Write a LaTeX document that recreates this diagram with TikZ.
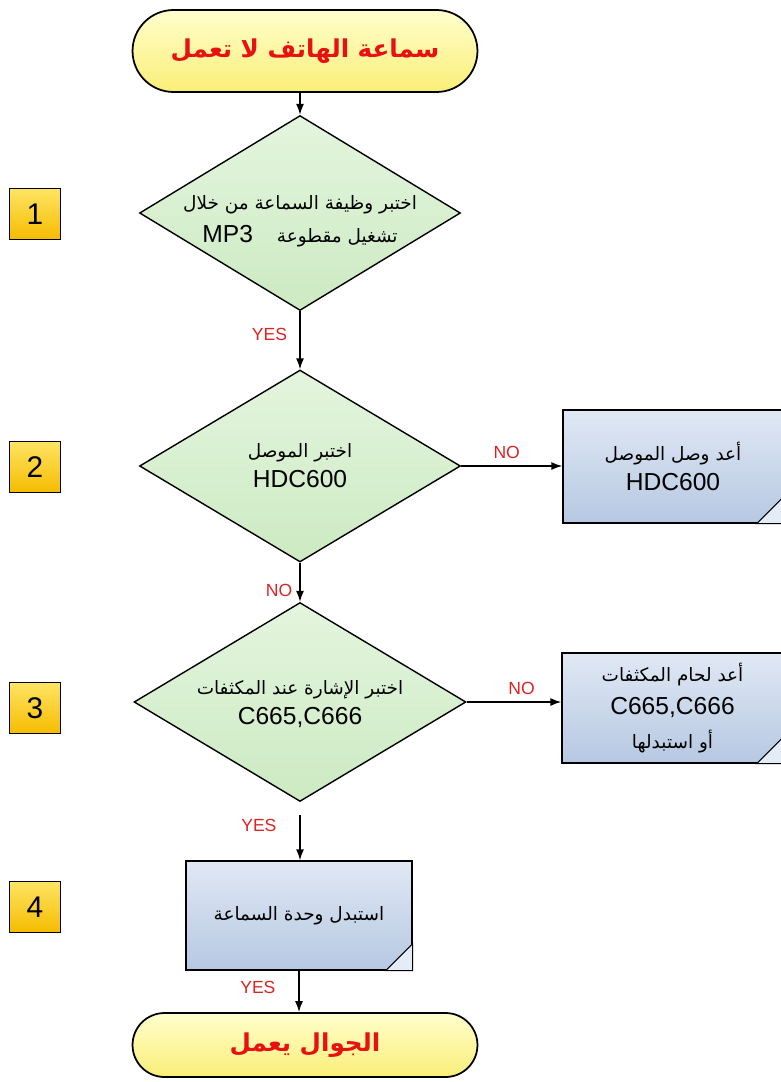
\documentclass[tikz,border=0pt]{standalone}
\usepackage{fontspec}
\setmainfont{Liberation Sans}
\newfontfamily\arabicfont[Script=Arabic]{DejaVu Sans}
\TeXXeTstate=1
\usepackage{tikz}
\usetikzlibrary{positioning,shapes.geometric,arrows.meta,calc}

\definecolor{termtop}{RGB}{255,255,205}
\definecolor{termbot}{RGB}{250,238,120}
\definecolor{dectop}{RGB}{228,245,222}
\definecolor{decbot}{RGB}{204,234,194}
\definecolor{boxtop}{RGB}{224,232,244}
\definecolor{boxbot}{RGB}{182,200,226}
\definecolor{foldc}{RGB}{228,236,248}
\definecolor{numtop}{RGB}{255,228,100}
\definecolor{numbot}{RGB}{245,188,0}
\definecolor{lblred}{RGB}{222,34,34}
\definecolor{titlered}{RGB}{232,16,16}

\newcommand{\arline}[1]{{\arabicfont\fontsize{10.5}{17}\selectfont\beginR #1\endR}}

\tikzset{
  term/.style={draw, line width=1pt, top color=termtop, bottom color=termbot,
    minimum width=6.9cm, font=\arabicfont\bfseries\fontsize{14}{17}\selectfont, text=titlered},
  decision/.style={diamond, draw, line width=0.8pt, top color=dectop, bottom color=decbot, inner sep=0pt},
  dtext/.style={align=center, font=\fontsize{14}{17}\selectfont},
  process/.style={draw, line width=0.8pt, top color=boxtop, bottom color=boxbot, align=center,
    font=\fontsize{14}{17}\selectfont},
  num/.style={draw, line width=0.8pt, top color=numtop, bottom color=numbot,
    minimum size=1.02cm, font=\fontsize{17}{20}\selectfont},
  arr/.style={-{Latex[length=2.2mm,width=1.6mm]}, line width=0.8pt},
  lbl/.style={text=lblred, font=\fontsize{10}{12}\selectfont, inner sep=1pt}
}

\newcommand{\fold}[1]{
  \draw[fill=foldc, line width=0.6pt] ($(#1.south east)+(-27,0)$) -- ($(#1.south east)+(0,-27)$)
    -- (#1.south east) -- cycle;
}

\begin{document}
\begin{tikzpicture}[x=0.02cm, y=-0.02cm]
    \useasboundingbox (0,0) rectangle (781,1082);

    % start and end
    \node[term, minimum height=1.64cm, rounded corners=0.82cm] (start) at (305,51)
      {\beginR سماعة الهاتف لا تعمل\endR};
    \node[term, minimum height=1.28cm, rounded corners=0.64cm] (stop) at (305,1045)
      {\beginR الجوال يعمل\endR};

    % checks
    \node[decision, minimum width=6.42cm, minimum height=3.9cm] (d1) at (300,213) {};
    \node[dtext] (d1t) at ($(d1)+(0,8)$) {\arline{اختبر وظيفة السماعة من خلال}\\[2pt]
      \arline{تشغيل مقطوعة\hspace{1.3em}{\rmfamily\fontsize{14}{17}\selectfont\beginL MP3\endL}}};
    \node[decision, minimum width=6.42cm, minimum height=3.84cm] (d2) at (300,466) {};
    \node[dtext] (d2t) at (d2) {\arline{اختبر الموصل}\\ HDC600};
    \node[decision, minimum width=6.64cm, minimum height=3.98cm] (d3) at (300,702) {};
    \node[dtext] (d3t) at ($(d3)+(0,2)$) {\arline{اختبر الإشارة عند المكثفات}\\ C665,C666};

    % actions
    \node[process, minimum width=4.4cm, minimum height=2.26cm] (b2) at (673,466.5)
      {\arline{أعد وصل الموصل}\\ HDC600};
    \node[process, minimum width=4.42cm, minimum height=2.2cm] (b3) at (672.5,708)
      {\arline{أعد لحام المكثفات}\\[2pt] C665,C666\\[2pt] \arline{أو استبدلها}};
    \node[process, minimum width=4.52cm, minimum height=2.18cm] (b4) at (299,915.5)
      {\arline{استبدل وحدة السماعة}};
    \fold{b2}
    \fold{b3}
    \fold{b4}

    % step numbers
    \node[num] (n1) at (35,214) {1};
    \node[num] (n2) at (35,467) {2};
    \node[num] (n3) at (35,708) {3};
    \node[num] (n4) at (35,907) {4};

    \draw[arr] (d1.north |- start.south) -- (d1.north);
    \draw[arr] (d1.south) -- (d2.north) node[lbl, pos=0.4, left=6pt] {YES};
    \draw[arr] (d2.east) -- (d2.east -| b2.west) node[lbl, pos=0.45, above=3pt] {NO};
    \draw[arr] (d2.south) -- (d3.north) node[lbl, pos=0.72, left=3pt] {NO};
    \draw[arr] (d3.east) -- (d3.east -| b3.west) node[lbl, pos=0.58, above=3pt] {NO};
    \draw[arr, shorten <=0.26cm] (d3.south) -- (d3.south |- b4.north) node[lbl, pos=0.4, left=12pt] {YES};
    \draw[arr] (b4.south) -- (b4.south |- stop.north) node[lbl, pos=0.4, left=12pt] {YES};
\end{tikzpicture}
\end{document}
